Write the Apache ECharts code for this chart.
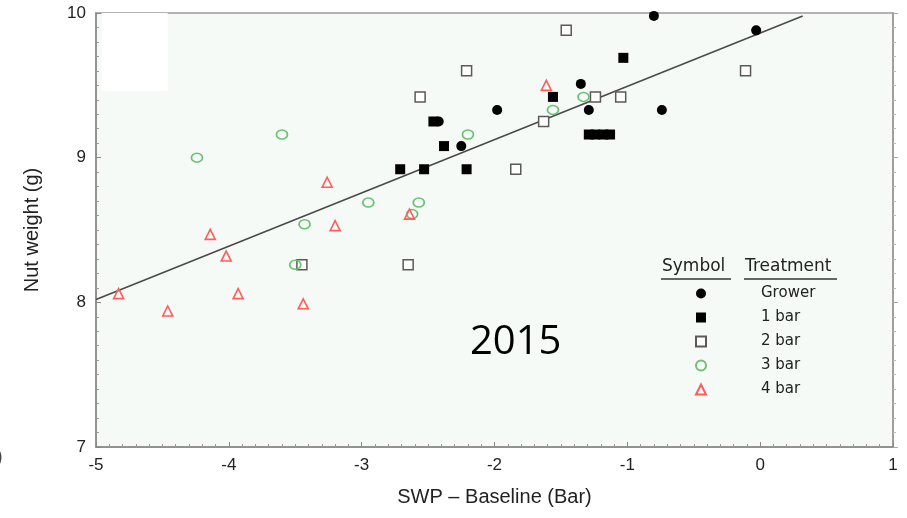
<!DOCTYPE html>
<html>
<head>
<meta charset="utf-8">
<script src="https://cdn.jsdelivr.net/npm/echarts@6/dist/echarts.min.js"></script>
<style>
html,body{margin:0;padding:0;background:#fff;}
#c{width:907px;height:518px;}
</style>
</head>
<body>
<div id="c"></div>
<script>
var xTicks = [-5, -4, -3, -2, -1, 0, 1];
var yTicks = [7, 8, 9, 10];

var growerX = [-0.80, -0.03, -1.35, -1.98, -1.29, -0.74, -2.42, -2.25];
var growerY = [9.98, 9.88, 9.51, 9.33, 9.33, 9.33, 9.25, 9.08];

var bar1X = [-1.03, -1.56, -2.46, -2.38, -2.71, -2.53, -2.21, -1.29, -1.24, -1.18, -1.13];
var bar1Y = [9.69, 9.42, 9.25, 9.08, 8.92, 8.92, 8.92, 9.16, 9.16, 9.16, 9.16];

var bar2X = [-1.46, -2.21, -0.11, -2.56, -1.24, -1.05, -1.63, -1.84, -3.45, -2.65];
var bar2Y = [9.88, 9.60, 9.60, 9.42, 9.42, 9.42, 9.25, 8.92, 8.26, 8.26];

var bar3X = [-4.24, -3.60, -2.20, -1.56, -1.33, -2.95, -2.57, -2.62, -3.43, -3.50];
var bar3Y = [9.00, 9.16, 9.16, 9.33, 9.42, 8.69, 8.69, 8.61, 8.54, 8.26];

var bar4X = [-1.61, -3.26, -3.20, -4.14, -4.02, -2.64, -4.83, -3.93, -4.46, -3.44];
var bar4Y = [9.50, 8.83, 8.53, 8.47, 8.32, 8.61, 8.06, 8.06, 7.94, 7.99];

var fitX = [-5, 0.32];
var fitY = [8.02, 9.98];

var names = ['Grower', '1 bar', '2 bar', '3 bar', '4 bar'];

function pts(xs, ys) { return xs.map(function (x, i) { return [x, ys[i]]; }); }

var chart = echarts.init(document.getElementById('c'), null, {renderer: 'canvas'});

var tickFont = {fontFamily: 'Liberation Sans', fontSize: 17, color: '#222'};

var option = {
  animation: false,
  backgroundColor: '#ffffff',
  grid: {
    left: 96, right: 14, top: 13, bottom: 71,
    show: true, backgroundColor: '#f5faf7', borderColor: '#9a9a9a', borderWidth: 1.5
  },
  xAxis: {
    type: 'value', min: -5, max: 1, interval: 1,
    name: 'SWP \u2013 Baseline (Bar)', nameLocation: 'middle', nameGap: 40,
    nameTextStyle: {fontFamily: 'Liberation Sans', fontSize: 20, color: '#222'},
    axisLine: {show: true, onZero: false, lineStyle: {color: '#888', width: 1.5}},
    axisTick: {show: true, inside: true, length: 5, lineStyle: {color: '#888'}},
    minorTick: {show: true, splitNumber: 10, length: 3, lineStyle: {color: '#999'}},
    splitLine: {show: false},
    axisLabel: Object.assign({margin: 10}, tickFont)
  },
  yAxis: [{
    type: 'value', min: 7, max: 10, interval: 1,
    name: 'Nut weight (g)', nameLocation: 'middle', nameGap: 54,
    nameTextStyle: {fontFamily: 'Liberation Sans', fontSize: 20, color: '#222'},
    axisLine: {show: true, onZero: false, lineStyle: {color: '#888', width: 1.5}},
    axisTick: {show: true, inside: true, length: 5, lineStyle: {color: '#888'}},
    minorTick: {show: true, splitNumber: 10, length: 3, lineStyle: {color: '#999'}},
    splitLine: {show: false},
    axisLabel: Object.assign({margin: 10}, tickFont)
  }, {
    type: 'value', min: 7, max: 10, interval: 1, position: 'right',
    axisLine: {show: true, onZero: false, lineStyle: {color: '#9a9a9a', width: 1.5}},
    axisTick: {show: true, inside: false, length: 5, lineStyle: {color: '#aaa'}},
    minorTick: {show: true, splitNumber: 10, length: 3, lineStyle: {color: '#bbb'}},
    splitLine: {show: false},
    axisLabel: {show: false}
  }],
  legend: {
    data: names,
    orient: 'vertical',
    left: 690, top: 281,
    itemWidth: 10, itemHeight: 10, itemGap: 9,
    selectedMode: false,
    textStyle: {fontFamily: 'DejaVu Sans', fontSize: 15, color: '#222', padding: [0, 0, 0, 50]}
  },
  graphic: [
    {type: 'text', left: 662, top: 258, style: {text: 'Symbol', font: '17px "DejaVu Sans"', fill: '#222'}},
    {type: 'text', left: 745, top: 258, style: {text: 'Treatment', font: '17px "DejaVu Sans"', fill: '#222'}},
    {type: 'line', shape: {x1: 661, y1: 279, x2: 731, y2: 279}, style: {stroke: '#333', lineWidth: 1.5}},
    {type: 'line', shape: {x1: 744, y1: 279, x2: 837, y2: 279}, style: {stroke: '#333', lineWidth: 1.5}},
    {type: 'text', left: 470, top: 323, style: {text: '2015', font: '40px "Open Sans"', fill: '#000'}},
    {type: 'text', left: -4, top: 447, style: {text: ')', font: '20px "Liberation Sans"', fill: '#444'}}
  ],
  series: [
    {
      name: 'fit', type: 'line', data: pts(fitX, fitY), showSymbol: false, symbol: 'none',
      lineStyle: {color: '#4a4a4a', width: 1.6}, z: 1, silent: true,
      markArea: {
        silent: true,
        itemStyle: {color: '#ffffff'},
        data: [[{coord: [-4.957, 10]}, {coord: [-4.46, 9.463]}]]
      }
    },
    {
      name: 'Grower', type: 'scatter', data: pts(growerX, growerY), symbol: 'circle', symbolSize: 10,
      itemStyle: {color: '#000', opacity: 1}, z: 3
    },
    {
      name: '1 bar', type: 'scatter', data: pts(bar1X, bar1Y), symbol: 'rect', symbolSize: 10,
      itemStyle: {color: '#000', opacity: 1}, z: 3
    },
    {
      name: '2 bar', type: 'scatter', data: pts(bar2X, bar2Y), symbol: 'rect', symbolSize: 10,
      itemStyle: {color: '#ffffff', borderColor: '#5a5a5a', borderWidth: 1.5, opacity: 1}, z: 3
    },
    {
      name: '3 bar', type: 'scatter', data: pts(bar3X, bar3Y), symbol: 'circle', symbolSize: [11, 9],
      itemStyle: {color: 'rgba(0,0,0,0)', borderColor: '#6cc274', borderWidth: 1.6, opacity: 1}, z: 3
    },
    {
      name: '4 bar', type: 'scatter', data: pts(bar4X, bar4Y), symbol: 'triangle', symbolSize: 10,
      itemStyle: {color: 'rgba(0,0,0,0)', borderColor: '#ff5c5c', borderWidth: 1.6, opacity: 1}, z: 3
    }
  ]
};
chart.setOption(option);
</script>
</body>
</html>
